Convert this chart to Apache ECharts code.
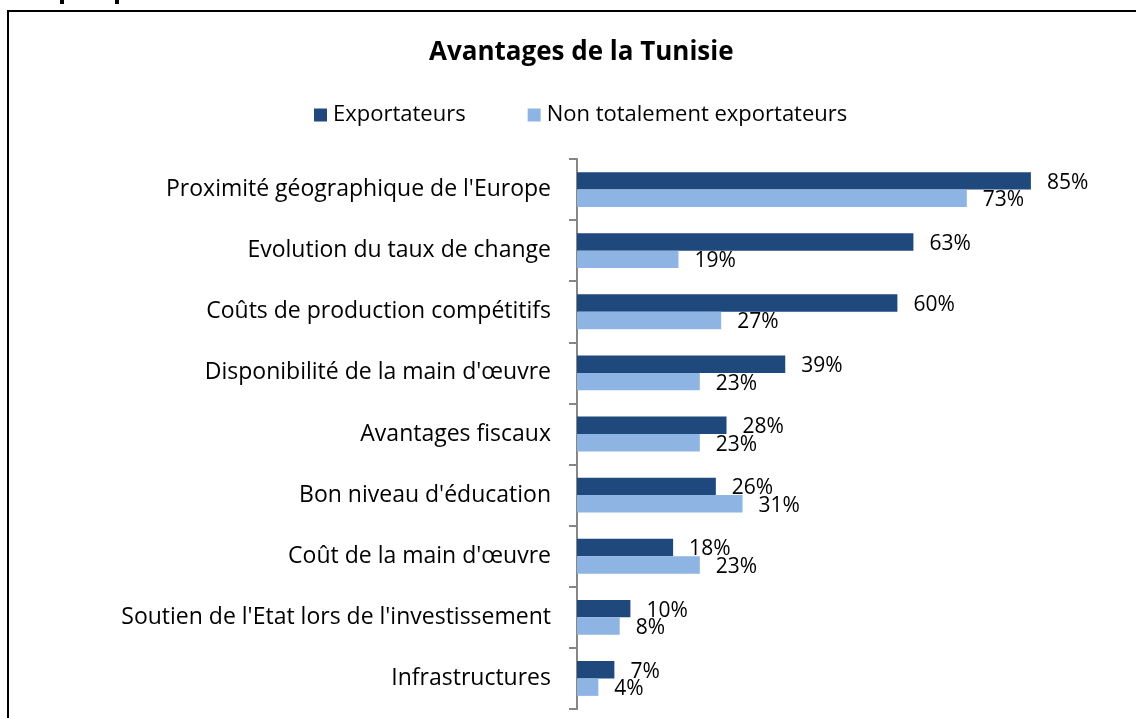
<!DOCTYPE html>
<html>
<head>
<meta charset="utf-8">
<script src="https://cdn.jsdelivr.net/npm/echarts@6/dist/echarts.min.js"></script>
<style>
  html, body { margin: 0; padding: 0; background: #fff; }
  #chart { width: 1136px; height: 718px; }
</style>
</head>
<body>
<div id="chart"></div>
<script>
// données
var categories = [
  "Proximité géographique de l'Europe",
  "Evolution du taux de change",
  "Coûts de production compétitifs",
  "Disponibilité de la main d'œuvre",
  "Avantages fiscaux",
  "Bon niveau d'éducation",
  "Coût de la main d'œuvre",
  "Soutien de l'Etat lors de l'investissement",
  "Infrastructures"
];
var exportateurs = [85, 63, 60, 39, 28, 26, 18, 10, 7];
var nonExportateurs = [73, 19, 27, 23, 23, 31, 23, 8, 4];

var font = "'Open Sans', Lato, sans-serif";
var chart = echarts.init(document.getElementById("chart"));

var option = {
  backgroundColor: "#fff",
  title: {
    text: "Avantages de la Tunisie",
    left: 424,
    top: 35,
    textStyle: { fontFamily: font, fontSize: 26, fontWeight: "bold", color: "#000" }
  },
  legend: {
    top: 99,
    left: 309,
    itemWidth: 13,
    itemHeight: 13,
    itemGap: 62,
    icon: "rect",
    textStyle: { fontFamily: font, fontSize: 22, color: "#000", padding: [0, 0, 0, 1] },
    data: ["Exportateurs", "Non totalement exportateurs"]
  },
  grid: { left: 577, right: 25, top: 159, bottom: 9 },
  xAxis: {
    type: "value",
    min: 0,
    max: 100,
    show: false
  },
  yAxis: {
    type: "category",
    inverse: true,
    data: categories,
    axisLine: { show: true, lineStyle: { color: "#868686", width: 2 } },
    axisTick: { show: true, length: 8, lineStyle: { color: "#868686", width: 2 } },
    axisLabel: { fontFamily: font, fontSize: 23, color: "#000", margin: 26 }
  },
  series: [
    {
      name: "Exportateurs",
      type: "bar",
      data: exportateurs,
      barGap: "0%",
      barCategoryGap: "43%",
      itemStyle: { color: "#1F497D" },
      label: {
        show: true, position: "right", distance: 16, offset: [0, 2],
        formatter: "{c}%", fontFamily: font, fontSize: 21, color: "#000"
      }
    },
    {
      name: "Non totalement exportateurs",
      type: "bar",
      data: nonExportateurs,
      barGap: "0%",
      barCategoryGap: "43%",
      itemStyle: { color: "#8EB4E3" },
      label: {
        show: true, position: "right", distance: 16, offset: [0, 2],
        formatter: "{c}%", fontFamily: font, fontSize: 21, color: "#000"
      }
    }
  ],
  graphic: [
    {
      type: "rect",
      shape: { x: 8, y: 11, width: 1150, height: 740 },
      style: { fill: "none", stroke: "#000", lineWidth: 2 }
    },
    { type: "rect", shape: { x: 60, y: 0, width: 4, height: 4 }, style: { fill: "#000" } },
    { type: "rect", shape: { x: 115, y: 0, width: 4, height: 4 }, style: { fill: "#000" } }
  ]
};
chart.setOption(option);
</script>
</body>
</html>
